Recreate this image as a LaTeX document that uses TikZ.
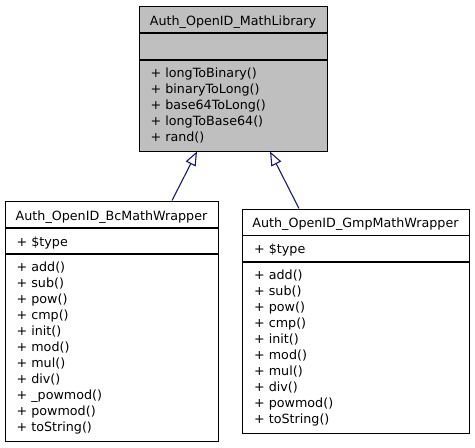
\documentclass[tikz,border=0pt]{standalone}
\usepackage{fontspec}
\newfontfamily\dv{DejaVu Sans}
\usetikzlibrary{arrows.meta,calc}
\definecolor{edgeblue}{RGB}{25,25,112}
\definecolor{basegray}{RGB}{191,191,191}
\tikzset{
  sect/.style={draw=black, line width=1pt, rectangle, inner sep=0pt},
  divline/.style={draw=black, line width=1.8pt},
  item/.style={anchor=base west, inner sep=0pt, font=\dv\fontsize{12.7}{16}\selectfont},
  ttl/.style={anchor=base, inner sep=0pt, font=\dv\fontsize{12.7}{16}\selectfont},
  inherit/.style={draw=edgeblue, line width=1.1pt, -{Triangle[open, length=14pt, width=11pt, fill=white]}}
}
\begin{document}
\begin{tikzpicture}[x=1pt,y=-1pt]
\useasboundingbox (0,0) rectangle (475,448);
% ---- Auth_OpenID_MathLibrary
\node[sect, fill=basegray, minimum width=188pt, minimum height=145pt] (ml) at (233,78.5) {};
\draw[divline] (139,33) -- (327,33);
\draw[divline] (139,60) -- (327,60);
\node[ttl] (mlt) at (233,25) {Auth\_OpenID\_MathLibrary};
\foreach \t [count=\i from 0] in {longToBinary(), binaryToLong(), base64ToLong(), longToBase64(), rand()}
  \node[item] (mlm\i) at (150.5,77+16*\i) {+ \t};
% ---- Auth_OpenID_BcMathWrapper
\node[sect, fill=white, minimum width=213pt, minimum height=240pt] (bc) at (111.5,321) {};
\draw[divline] (5,228) -- (218,228);
\draw[divline] (5,254) -- (218,254);
\node[ttl] (bct) at (111.5,220) {Auth\_OpenID\_BcMathWrapper};
\node[item] (bca) at (16.5,246) {+ \$type};
\foreach \t [count=\i from 0] in {add(), sub(), pow(), cmp(), init(), mod(), mul(), div(), \_powmod(), powmod(), toString()}
  \node[item] (bcm\i) at (16.5,271+16*\i) {+ \t};
% ---- Auth_OpenID_GmpMathWrapper
\node[sect, fill=white, minimum width=227pt, minimum height=224pt] (gm) at (355.5,321) {};
\draw[divline] (242,235.5) -- (469,235.5);
\draw[divline] (242,262) -- (469,262);
\node[ttl] (gmt) at (355.5,227.5) {Auth\_OpenID\_GmpMathWrapper};
\node[item] (gma) at (254,253.5) {+ \$type};
\foreach \t [count=\i from 0] in {add(), sub(), pow(), cmp(), init(), mod(), mul(), div(), powmod(), toString()}
  \node[item] (gmm\i) at (254,279+16*\i) {+ \t};
% ---- inheritance
\draw[inherit] ([xshift=60.5pt]bc.north) -- ([xshift=-36pt]ml.south);
\draw[inherit] ([xshift=-56.5pt]gm.north) -- ([xshift=37pt]ml.south);
\end{tikzpicture}
\end{document}
